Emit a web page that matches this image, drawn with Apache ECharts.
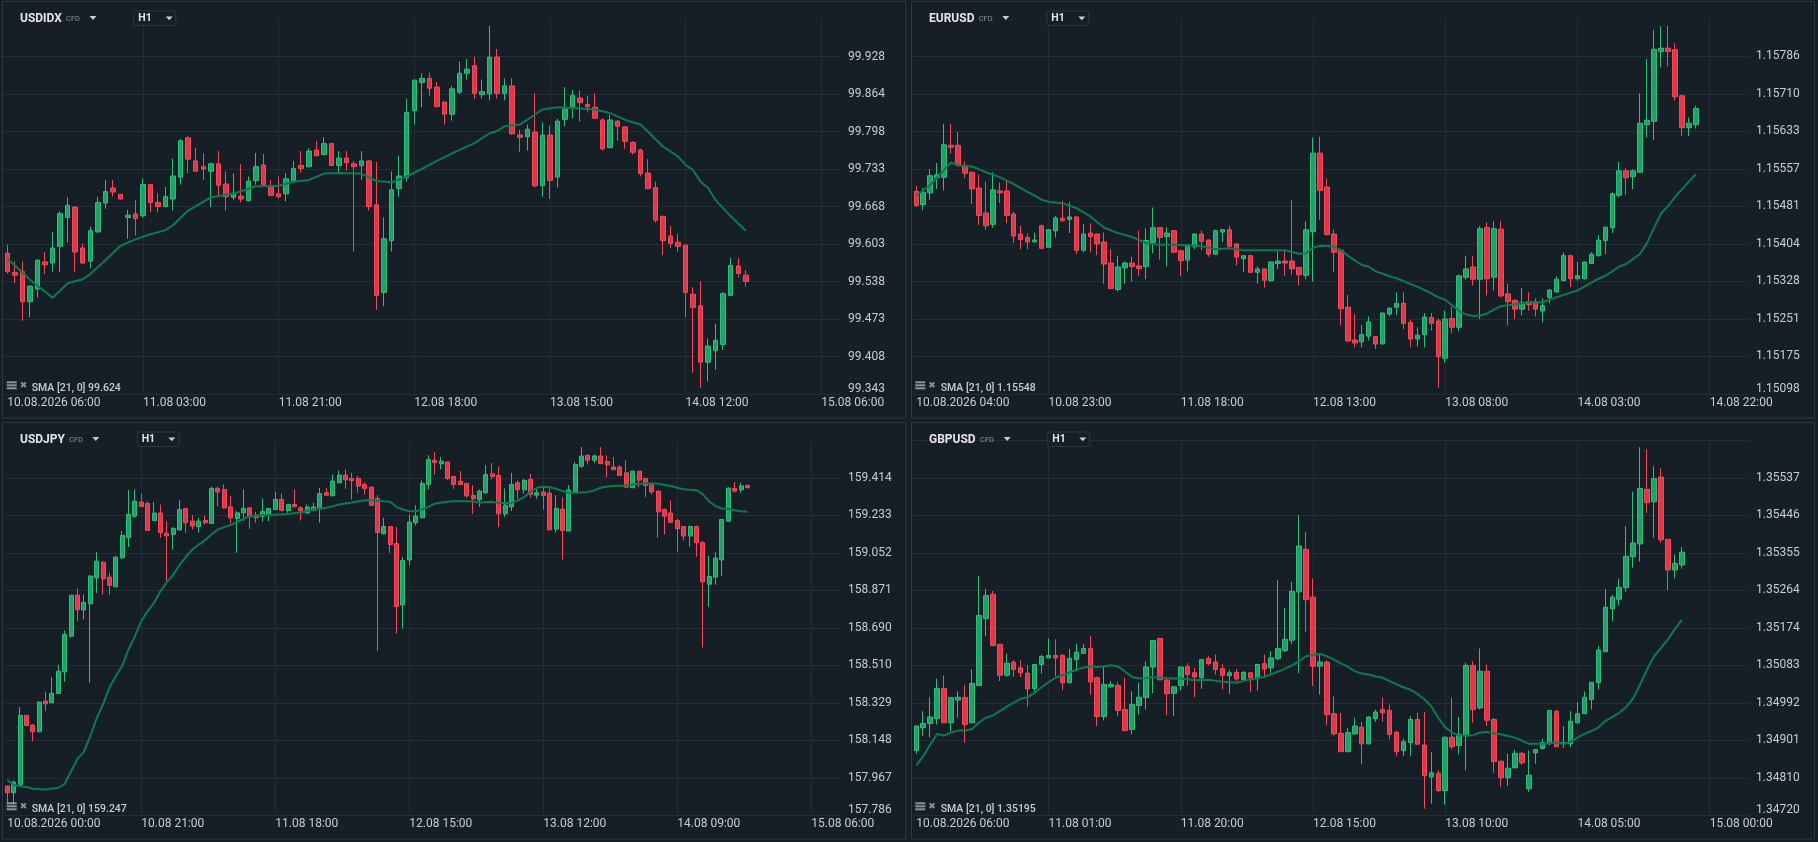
<!DOCTYPE html>
<html><head><meta charset="utf-8">
<script src="https://cdn.jsdelivr.net/npm/echarts@6/dist/echarts.min.js"></script>
<style>html,body{margin:0;padding:0;background:#171f26;}#c{width:1818px;height:842px;}</style>
</head><body><div id="c"></div><script>
// ---------- USDIDX ----------
const usdidxXLabels = ['10.08.2026 06:00','11.08 03:00','11.08 21:00','12.08 18:00','13.08 15:00','14.08 12:00','15.08 06:00'];
const usdidxYLabels = ['99.343','99.408','99.473','99.538','99.603','99.668','99.733','99.798','99.864','99.928'];
const usdidxCandles = [
[99.587,99.555,99.552,99.602],[99.554,99.549,99.535,99.573],[99.555,99.503,99.470,99.573],[99.503,99.530,99.476,99.531],
[99.525,99.575,99.510,99.576],[99.572,99.567,99.551,99.589],[99.570,99.596,99.555,99.624],[99.599,99.656,99.555,99.660],
[99.649,99.670,99.606,99.684],[99.667,99.589,99.555,99.669],[99.596,99.570,99.569,99.604],[99.573,99.626,99.561,99.633],
[99.624,99.675,99.622,99.685],[99.674,99.694,99.664,99.714],[99.700,99.693,99.685,99.714],[99.689,99.681,99.680,99.690],
[99.649,99.653,99.612,99.662],[99.655,99.647,99.618,99.679],[99.652,99.706,99.649,99.717],[99.706,99.675,99.658,99.707],
[99.675,99.668,99.658,99.691],[99.668,99.685,99.667,99.702],[99.681,99.721,99.661,99.751],[99.719,99.782,99.706,99.785],
[99.787,99.750,99.726,99.790],[99.747,99.729,99.728,99.770],[99.737,99.733,99.714,99.760],[99.729,99.742,99.667,99.744],
[99.742,99.705,99.688,99.764],[99.707,99.685,99.661,99.729],[99.684,99.691,99.679,99.725],[99.686,99.681,99.675,99.741],
[99.678,99.712,99.677,99.720],[99.713,99.737,99.706,99.761],[99.740,99.706,99.705,99.759],[99.703,99.687,99.686,99.714],
[99.690,99.685,99.682,99.720],[99.690,99.716,99.677,99.726],[99.711,99.734,99.710,99.747],[99.739,99.734,99.727,99.764],
[99.737,99.764,99.736,99.769],[99.766,99.756,99.755,99.782],[99.758,99.777,99.757,99.788],[99.777,99.739,99.738,99.778],
[99.739,99.752,99.726,99.764],[99.752,99.744,99.730,99.764],[99.742,99.737,99.590,99.747],[99.739,99.747,99.714,99.764],
[99.747,99.668,99.661,99.748],[99.671,99.514,99.489,99.745],[99.519,99.612,99.495,99.649],[99.609,99.697,99.590,99.729],
[99.699,99.721,99.685,99.756],[99.718,99.831,99.711,99.855],[99.834,99.887,99.810,99.888],[99.883,99.890,99.840,99.899],
[99.890,99.873,99.860,99.900],[99.875,99.841,99.840,99.884],[99.849,99.828,99.810,99.850],[99.828,99.872,99.817,99.877],
[99.866,99.899,99.863,99.919],[99.899,99.906,99.888,99.924],[99.912,99.864,99.854,99.927],[99.862,99.867,99.855,99.888],
[99.863,99.927,99.852,99.981],[99.927,99.864,99.855,99.941],[99.864,99.877,99.852,99.890],[99.877,99.794,99.792,99.890],
[99.792,99.788,99.762,99.801],[99.789,99.802,99.765,99.810],[99.797,99.704,99.701,99.864],[99.704,99.792,99.685,99.814],
[99.792,99.713,99.681,99.808],[99.719,99.816,99.701,99.820],[99.819,99.837,99.807,99.875],[99.840,99.861,99.821,99.870],
[99.856,99.848,99.815,99.869],[99.845,99.841,99.831,99.860],[99.840,99.821,99.820,99.864],[99.818,99.768,99.765,99.821],
[99.770,99.818,99.769,99.827],[99.816,99.807,99.782,99.817],[99.806,99.781,99.768,99.807],[99.779,99.762,99.758,99.781],
[99.766,99.725,99.720,99.768],[99.726,99.699,99.698,99.750],[99.701,99.644,99.640,99.711],[99.651,99.609,99.584,99.652],
[99.617,99.604,99.596,99.634],[99.606,99.599,99.590,99.621],[99.601,99.519,99.476,99.602],[99.516,99.493,99.380,99.528],
[99.496,99.398,99.354,99.538],[99.398,99.426,99.365,99.439],[99.418,99.436,99.385,99.465],[99.429,99.517,99.419,99.520],
[99.514,99.566,99.513,99.579],[99.565,99.552,99.545,99.579],[99.549,99.538,99.529,99.558]];
const usdidxSma = [[0,99.578],[3,99.541],[6,99.510],[8,99.535],[10,99.542],[11,99.551],[13,99.575],[15,99.600],[17,99.611],[19,99.620],[21,99.627],[22,99.636],[24,99.661],[27,99.684],[30,99.690],[33,99.703],[36,99.704],[38,99.711],[40,99.714],[42,99.725],[44,99.726],[47,99.725],[49,99.712],[51,99.710],[53,99.720],[55,99.733],[57,99.747],[60,99.766],[62,99.778],[64,99.795],[65,99.799],[66,99.807],[68,99.810],[70,99.827],[71,99.836],[73,99.840],[76,99.838],[78,99.836],[80,99.830],[82,99.818],[84,99.810],[85,99.798],[87,99.772],[89,99.755],[90,99.740],[91,99.731],[92,99.711],[93,99.700],[94,99.679],[96,99.651],[98,99.626]];

// ---------- EURUSD ----------
const eurusdXLabels = ['10.08.2026 04:00','10.08 23:00','11.08 18:00','12.08 13:00','13.08 08:00','14.08 03:00','14.08 22:00'];
const eurusdYLabels = ['1.15098','1.15175','1.15251','1.15328','1.15404','1.15481','1.15557','1.15633','1.15710','1.15786'];
const eurusdCandles = [
[1.15511,1.15482,1.15480,1.15522],[1.15484,1.15509,1.15473,1.15518],[1.15508,1.15543,1.15494,1.15556],[1.15539,1.15545,1.15516,1.15569],
[1.15540,1.15606,1.15513,1.15649],[1.15605,1.15601,1.15588,1.15649],[1.15605,1.15564,1.15562,1.15632],[1.15564,1.15548,1.15538,1.15572],
[1.15550,1.15516,1.15485,1.15551],[1.15518,1.15462,1.15443,1.15545],[1.15467,1.15441,1.15433,1.15531],[1.15444,1.15514,1.15437,1.15550],
[1.15512,1.15508,1.15487,1.15529],[1.15512,1.15462,1.15446,1.15534],[1.15465,1.15420,1.15406,1.15469],[1.15424,1.15413,1.15393,1.15441],
[1.15417,1.15408,1.15393,1.15425],[1.15408,1.15412,1.15407,1.15427],[1.15441,1.15395,1.15393,1.15443],[1.15397,1.15433,1.15396,1.15434],
[1.15431,1.15457,1.15417,1.15461],[1.15456,1.15451,1.15450,1.15492],[1.15454,1.15459,1.15426,1.15490],[1.15459,1.15391,1.15383,1.15460],
[1.15391,1.15424,1.15387,1.15445],[1.15426,1.15419,1.15387,1.15446],[1.15424,1.15404,1.15381,1.15425],[1.15408,1.15363,1.15323,1.15427],
[1.15365,1.15313,1.15312,1.15393],[1.15311,1.15357,1.15307,1.15380],[1.15355,1.15365,1.15323,1.15368],[1.15365,1.15358,1.15327,1.15378],
[1.15359,1.15354,1.15339,1.15431],[1.15358,1.15411,1.15332,1.15436],[1.15407,1.15437,1.15385,1.15478],[1.15437,1.15417,1.15372,1.15438],
[1.15419,1.15426,1.15358,1.15438],[1.15431,1.15387,1.15386,1.15432],[1.15390,1.15370,1.15338,1.15391],[1.15371,1.15402,1.15348,1.15403],
[1.15398,1.15424,1.15393,1.15426],[1.15424,1.15409,1.15391,1.15431],[1.15412,1.15383,1.15378,1.15413],[1.15383,1.15431,1.15382,1.15433],
[1.15428,1.15433,1.15408,1.15434],[1.15433,1.15399,1.15397,1.15441],[1.15404,1.15377,1.15360,1.15405],[1.15374,1.15380,1.15346,1.15381],
[1.15380,1.15346,1.15345,1.15381],[1.15346,1.15353,1.15323,1.15358],[1.15353,1.15330,1.15315,1.15354],[1.15329,1.15367,1.15327,1.15368],
[1.15364,1.15369,1.15353,1.15389],[1.15369,1.15365,1.15339,1.15391],[1.15369,1.15353,1.15341,1.15494],[1.15356,1.15341,1.15319,1.15357],
[1.15340,1.15433,1.15332,1.15450],[1.15429,1.15589,1.15327,1.15621],[1.15589,1.15513,1.15453,1.15623],[1.15520,1.15423,1.15421,1.15538],
[1.15424,1.15387,1.15346,1.15433],[1.15391,1.15272,1.15238,1.15392],[1.15275,1.15206,1.15205,1.15300],[1.15208,1.15202,1.15193,1.15261],
[1.15204,1.15219,1.15193,1.15239],[1.15216,1.15245,1.15207,1.15256],[1.15215,1.15200,1.15190,1.15216],[1.15200,1.15263,1.15199,1.15264],
[1.15261,1.15273,1.15256,1.15274],[1.15275,1.15283,1.15259,1.15305],[1.15283,1.15242,1.15230,1.15305],[1.15244,1.15210,1.15193,1.15249],
[1.15210,1.15218,1.15195,1.15234],[1.15219,1.15255,1.15193,1.15263],[1.15254,1.15242,1.15227,1.15263],[1.15247,1.15174,1.15111,1.15252],
[1.15171,1.15251,1.15162,1.15268],[1.15252,1.15234,1.15222,1.15276],[1.15234,1.15339,1.15226,1.15341],[1.15336,1.15353,1.15331,1.15380],
[1.15357,1.15332,1.15319,1.15380],[1.15332,1.15435,1.15251,1.15440],[1.15438,1.15333,1.15299,1.15448],[1.15336,1.15435,1.15309,1.15450],
[1.15434,1.15298,1.15295,1.15450],[1.15302,1.15286,1.15238,1.15323],[1.15289,1.15271,1.15251,1.15291],[1.15271,1.15285,1.15258,1.15314],
[1.15286,1.15280,1.15268,1.15305],[1.15286,1.15271,1.15256,1.15293],[1.15267,1.15278,1.15244,1.15293],[1.15295,1.15310,1.15283,1.15312],
[1.15306,1.15332,1.15305,1.15338],[1.15329,1.15380,1.15328,1.15387],[1.15380,1.15333,1.15316,1.15381],[1.15333,1.15339,1.15329,1.15367],
[1.15333,1.15367,1.15331,1.15368],[1.15364,1.15383,1.15363,1.15387],[1.15380,1.15412,1.15378,1.15422],[1.15411,1.15438,1.15383,1.15439],
[1.15437,1.15506,1.15426,1.15509],[1.15503,1.15553,1.15499,1.15571],[1.15553,1.15539,1.15504,1.15558],[1.15541,1.15553,1.15516,1.15556],
[1.15550,1.15650,1.15549,1.15711],[1.15647,1.15656,1.15621,1.15781],[1.15654,1.15801,1.15616,1.15840],[1.15796,1.15803,1.15764,1.15848],
[1.15803,1.15796,1.15766,1.15848],[1.15800,1.15704,1.15696,1.15813],[1.15706,1.15641,1.15624,1.15708],[1.15641,1.15650,1.15624,1.15662],
[1.15647,1.15680,1.15639,1.15686]];
const eurusdSma = [[0,1.15502],[2,1.15524],[4,1.15555],[5,1.15570],[6,1.15564],[8,1.15562],[10,1.15550],[12,1.15540],[14,1.15526],[16,1.15510],[18,1.15494],[19,1.15490],[21,1.15487],[23,1.15477],[25,1.15460],[27,1.15437],[29,1.15426],[31,1.15418],[33,1.15406],[35,1.15402],[37,1.15402],[39,1.15401],[41,1.15399],[43,1.15393],[45,1.15395],[47,1.15391],[49,1.15391],[51,1.15391],[53,1.15391],[55,1.15384],[56,1.15385],[57,1.15396],[58,1.15400],[60,1.15399],[61,1.15391],[62,1.15380],[64,1.15361],[65,1.15358],[66,1.15348],[67,1.15343],[68,1.15338],[69,1.15334],[70,1.15328],[71,1.15322],[72,1.15317],[73,1.15310],[74,1.15303],[75,1.15295],[76,1.15290],[77,1.15279],[78,1.15267],[79,1.15260],[80,1.15257],[81,1.15258],[82,1.15262],[83,1.15270],[84,1.15277],[86,1.15281],[88,1.15285],[90,1.15285],[91,1.15290],[93,1.15300],[95,1.15309],[97,1.15325],[98,1.15333],[99,1.15339],[100,1.15348],[101,1.15358],[102,1.15363],[104,1.15384],[105,1.15406],[106,1.15437],[107,1.15466],[108,1.15481],[109,1.15499],[110,1.15515],[111,1.15531],[112,1.15546]];

// ---------- USDJPY ----------
const usdjpyXLabels = ['10.08.2026 00:00','10.08 21:00','11.08 18:00','12.08 15:00','13.08 12:00','14.08 09:00','15.08 06:00'];
const usdjpyYLabels = ['157.786','157.967','158.148','158.329','158.510','158.690','158.871','159.052','159.233','159.414'];
const usdjpyCandles = [
[157.927,157.895,157.838,157.928],[157.895,157.946,157.838,157.954],[157.935,158.268,157.934,158.308],[158.268,158.219,158.218,158.269],
[158.221,158.189,158.144,158.227],[158.189,158.332,158.188,158.337],[158.337,158.324,158.288,158.382],[158.329,158.374,158.328,158.452],
[158.374,158.481,158.373,158.513],[158.478,158.658,158.430,158.677],[158.650,158.848,158.642,158.849],[158.848,158.777,158.723,158.880],
[158.777,158.813,158.731,158.851],[158.806,158.940,158.425,158.944],[158.932,159.012,158.859,159.055],[159.007,158.927,158.851,159.012],
[158.935,158.895,158.848,158.956],[158.888,159.031,158.887,159.036],[159.028,159.136,159.023,159.157],[159.125,159.237,159.080,159.355],
[159.229,159.301,159.221,159.358],[159.297,159.276,159.273,159.337],[159.290,159.160,159.158,159.301],[159.208,159.244,159.207,159.297],
[159.244,159.150,159.125,159.285],[159.146,159.134,158.916,159.205],[159.141,159.170,159.068,159.176],[159.163,159.261,159.157,159.306],
[159.266,159.197,159.149,159.267],[159.205,159.182,159.165,159.234],[159.179,159.205,159.149,159.221],[159.208,159.197,159.189,159.232],
[159.194,159.363,159.193,159.371],[159.363,159.346,159.277,159.371],[159.358,159.269,159.266,159.382],[159.274,159.221,159.194,159.326],
[159.218,159.245,159.052,159.253],[159.245,159.266,159.205,159.358],[159.269,159.229,159.168,159.270],[159.234,159.221,159.197,159.250],
[159.229,159.252,159.202,159.314],[159.237,159.266,159.205,159.267],[159.261,159.310,159.260,159.345],[159.310,159.256,159.253,159.338],
[159.256,159.285,159.245,159.286],[159.285,159.274,159.273,159.358],[159.269,159.256,159.208,159.277],[159.244,159.273,159.242,159.285],
[159.256,159.273,159.253,159.293],[159.266,159.338,159.197,159.366],[159.342,159.330,159.326,159.366],[159.327,159.398,159.326,159.430],
[159.390,159.427,159.389,159.449],[159.427,159.404,159.361,159.454],[159.411,159.401,159.310,159.438],[159.411,159.374,159.342,159.422],
[159.382,159.363,159.334,159.393],[159.369,159.281,159.279,159.370],[159.314,159.150,158.578,159.330],[159.144,159.179,159.141,159.221],
[159.179,159.092,159.052,159.180],[159.097,158.793,158.663,159.176],[158.801,159.015,158.687,159.031],[159.018,159.200,158.991,159.237],
[159.197,159.229,159.184,159.282],[159.221,159.387,159.220,159.401],[159.382,159.502,159.358,159.523],[159.499,159.488,159.430,159.538],
[159.482,159.494,159.454,159.514],[159.490,159.411,159.404,159.491],[159.420,159.382,159.361,159.421],[159.398,159.382,159.381,159.446],
[159.387,159.327,159.318,159.388],[159.329,159.313,159.240,159.379],[159.308,159.350,159.274,159.358],[159.342,159.430,159.337,159.475],
[159.433,159.420,159.406,159.485],[159.425,159.240,159.176,159.470],[159.240,159.282,159.226,159.363],[159.274,159.382,159.253,159.438],
[159.390,159.356,159.314,159.401],[159.356,159.401,159.338,159.409],[159.406,159.334,159.318,159.433],[159.330,159.342,159.314,159.358],
[159.345,159.329,159.260,159.366],[159.340,159.163,159.162,159.363],[159.166,159.266,159.149,159.330],[159.263,159.160,159.020,159.321],
[159.157,159.355,159.156,159.379],[159.345,159.478,159.344,159.490],[159.470,159.519,159.462,159.562],[159.523,159.499,159.478,159.524],
[159.499,159.519,159.486,159.527],[159.519,159.482,159.481,159.562],[159.493,159.477,159.417,159.522],[159.466,159.453,159.452,159.514],
[159.466,159.425,159.424,159.475],[159.438,159.369,159.366,159.498],[159.366,159.446,159.365,159.449],[159.446,159.403,159.369,159.447],
[159.411,159.377,159.321,159.414],[159.385,159.346,159.334,159.386],[159.350,159.250,159.125,159.351],[159.261,159.229,159.141,159.266],
[159.244,159.199,159.198,159.306],[159.208,159.168,159.057,159.218],[159.179,159.133,159.112,159.180],[159.133,159.179,159.081,159.184],
[159.179,159.101,159.033,159.184],[159.101,158.912,158.594,159.109],[158.901,158.938,158.792,159.039],[158.935,159.027,158.899,159.055],
[159.018,159.213,158.941,159.214],[159.205,159.364,159.202,159.369],[159.363,159.350,159.342,159.393],[159.356,159.375,159.342,159.390],
[159.377,159.367,159.361,159.382]];
const usdjpySma = [[0,157.956],[1,157.932],[3,157.923],[4,157.914],[6,157.911],[8,157.919],[9,157.938],[10,157.999],[11,158.058],[12,158.092],[13,158.168],[14,158.253],[15,158.321],[16,158.401],[17,158.457],[18,158.506],[19,158.586],[20,158.650],[21,158.723],[22,158.771],[23,158.811],[24,158.867],[25,158.911],[26,158.945],[27,158.993],[28,159.033],[29,159.068],[30,159.092],[31,159.113],[32,159.141],[33,159.165],[34,159.176],[35,159.186],[36,159.200],[37,159.216],[38,159.229],[40,159.234],[42,159.236],[44,159.239],[46,159.248],[48,159.260],[50,159.269],[52,159.285],[54,159.295],[56,159.306],[57,159.306],[58,159.305],[59,159.301],[60,159.298],[61,159.273],[62,159.261],[63,159.253],[64,159.253],[65,159.261],[66,159.274],[67,159.289],[68,159.295],[69,159.298],[70,159.301],[72,159.301],[73,159.300],[74,159.295],[76,159.298],[77,159.293],[78,159.292],[79,159.293],[80,159.305],[81,159.321],[82,159.346],[83,159.366],[84,159.371],[85,159.369],[86,159.361],[87,159.350],[88,159.342],[89,159.342],[91,159.346],[92,159.353],[93,159.366],[94,159.372],[95,159.375],[97,159.377],[99,159.385],[100,159.388],[102,159.385],[104,159.374],[105,159.366],[106,159.359],[107,159.356],[108,159.355],[109,159.334],[110,159.301],[111,159.277],[112,159.266],[113,159.263],[114,159.258],[115,159.253],[116,159.250]];

// ---------- GBPUSD ----------
const gbpusdXLabels = ['10.08.2026 06:00','11.08 01:00','11.08 20:00','12.08 15:00','13.08 10:00','14.08 05:00','15.08 00:00'];
const gbpusdYLabels = ['1.34720','1.34810','1.34901','1.34992','1.35083','1.35174','1.35264','1.35355','1.35446','1.35537'];
const gbpusdCandles = [
[1.34877,1.34936,1.34869,1.34938],[1.34932,1.34942,1.34912,1.34972],[1.34942,1.34958,1.34908,1.35006],[1.34954,1.35027,1.34940,1.35051],
[1.35027,1.34944,1.34943,1.35059],[1.34944,1.35005,1.34924,1.35006],[1.34999,1.35006,1.34956,1.35020],[1.35005,1.34940,1.34896,1.35035],
[1.34944,1.35039,1.34943,1.35073],[1.35034,1.35204,1.35033,1.35299],[1.35196,1.35252,1.35154,1.35268],[1.35255,1.35131,1.35130,1.35263],
[1.35134,1.35059,1.35045,1.35135],[1.35059,1.35088,1.35055,1.35111],[1.35091,1.35073,1.35055,1.35095],[1.35077,1.35065,1.35055,1.35095],
[1.35064,1.35026,1.34983,1.35083],[1.35027,1.35085,1.35020,1.35086],[1.35085,1.35104,1.35063,1.35109],[1.35101,1.35107,1.35100,1.35148],
[1.35107,1.35101,1.35057,1.35146],[1.35107,1.35041,1.35023,1.35111],[1.35041,1.35100,1.35040,1.35123],[1.35097,1.35115,1.35069,1.35135],
[1.35112,1.35124,1.35111,1.35135],[1.35124,1.35043,1.35012,1.35154],[1.35053,1.34959,1.34936,1.35056],[1.34959,1.35037,1.34950,1.35079],
[1.35031,1.35037,1.35029,1.35045],[1.35034,1.34974,1.34960,1.35042],[1.34976,1.34925,1.34924,1.35053],[1.34928,1.34988,1.34916,1.35020],
[1.34986,1.35006,1.34964,1.35041],[1.35005,1.35079,1.34976,1.35092],[1.35079,1.35143,1.35016,1.35144],[1.35148,1.35048,1.35047,1.35149],
[1.35047,1.35014,1.34962,1.35056],[1.35015,1.35031,1.34960,1.35033],[1.35034,1.35079,1.35022,1.35080],[1.35080,1.35061,1.35034,1.35088],
[1.35065,1.35055,1.35006,1.35077],[1.35053,1.35097,1.35026,1.35098],[1.35100,1.35087,1.35083,1.35105],[1.35091,1.35073,1.35061,1.35109],
[1.35075,1.35059,1.35025,1.35085],[1.35058,1.35065,1.35014,1.35072],[1.35066,1.35050,1.35045,1.35074],[1.35049,1.35066,1.35047,1.35069],
[1.35065,1.35053,1.35019,1.35066],[1.35053,1.35085,1.35022,1.35087],[1.35087,1.35074,1.35057,1.35109],[1.35077,1.35101,1.35065,1.35117],
[1.35099,1.35124,1.35095,1.35289],[1.35119,1.35146,1.35115,1.35222],[1.35144,1.35262,1.35134,1.35285],[1.35261,1.35372,1.35064,1.35447],
[1.35364,1.35242,1.35164,1.35406],[1.35248,1.35081,1.35033,1.35293],[1.35081,1.35091,1.35012,1.35109],[1.35091,1.34964,1.34938,1.35095],
[1.34966,1.34917,1.34913,1.35008],[1.34918,1.34874,1.34873,1.34968],[1.34874,1.34920,1.34873,1.34932],[1.34917,1.34936,1.34916,1.34956],
[1.34933,1.34893,1.34843,1.34946],[1.34893,1.34958,1.34892,1.34959],[1.34954,1.34970,1.34946,1.34976],[1.34976,1.34968,1.34946,1.35005],
[1.34974,1.34916,1.34904,1.34988],[1.34921,1.34874,1.34863,1.34924],[1.34877,1.34898,1.34863,1.34906],[1.34896,1.34952,1.34863,1.34960],
[1.34952,1.34892,1.34891,1.34968],[1.34890,1.34816,1.34736,1.34970],[1.34813,1.34823,1.34748,1.34873],[1.34822,1.34780,1.34776,1.34829],
[1.34780,1.34909,1.34746,1.34910],[1.34909,1.34886,1.34880,1.35005],[1.34889,1.34916,1.34867,1.34958],[1.34912,1.35083,1.34829,1.35089],
[1.35083,1.34976,1.34944,1.35093],[1.34980,1.35069,1.34976,1.35124],[1.35069,1.34950,1.34936,1.35085],[1.34952,1.34850,1.34823,1.34956],
[1.34851,1.34811,1.34789,1.34852],[1.34811,1.34834,1.34791,1.34869],[1.34835,1.34870,1.34834,1.34878],[1.34870,1.34847,1.34842,1.34873],
[1.34784,1.34817,1.34777,1.34877],[1.34871,1.34879,1.34845,1.34880],[1.34882,1.34896,1.34879,1.34905],[1.34893,1.34974,1.34891,1.34975],
[1.34972,1.34886,1.34885,1.34975],[1.34893,1.34896,1.34883,1.34936],[1.34893,1.34948,1.34885,1.34972],[1.34944,1.34966,1.34941,1.34994],
[1.34966,1.35006,1.34965,1.35020],[1.35000,1.35042,1.34976,1.35043],[1.35041,1.35120,1.35025,1.35130],[1.35116,1.35224,1.35115,1.35268],
[1.35220,1.35248,1.35190,1.35253],[1.35243,1.35272,1.35228,1.35293],[1.35271,1.35347,1.35261,1.35420],[1.35346,1.35379,1.35319,1.35503],
[1.35377,1.35511,1.35334,1.35611],[1.35509,1.35477,1.35452,1.35606],[1.35479,1.35535,1.35392,1.35565],[1.35539,1.35387,1.35380,1.35560],
[1.35388,1.35314,1.35265,1.35389],[1.35314,1.35330,1.35293,1.35351],[1.35326,1.35357,1.35317,1.35369]];
const gbpusdSma = [[0,1.34841],[1,1.34863],[2,1.34891],[3,1.34917],[4,1.34913],[5,1.34921],[6,1.34925],[7,1.34925],[8,1.34929],[9,1.34944],[10,1.34956],[11,1.34962],[12,1.34972],[13,1.34983],[14,1.34993],[15,1.35002],[16,1.35006],[17,1.35017],[18,1.35030],[19,1.35042],[20,1.35053],[21,1.35059],[22,1.35065],[23,1.35073],[24,1.35077],[25,1.35081],[26,1.35079],[27,1.35081],[28,1.35083],[29,1.35080],[30,1.35068],[31,1.35055],[32,1.35051],[33,1.35052],[34,1.35055],[35,1.35053],[36,1.35051],[38,1.35051],[40,1.35047],[42,1.35048],[44,1.35043],[46,1.35041],[48,1.35049],[50,1.35055],[52,1.35068],[54,1.35083],[55,1.35093],[56,1.35105],[57,1.35108],[58,1.35111],[59,1.35105],[60,1.35097],[61,1.35088],[62,1.35080],[63,1.35069],[64,1.35063],[65,1.35061],[66,1.35056],[67,1.35053],[68,1.35045],[69,1.35037],[70,1.35030],[71,1.35024],[72,1.35014],[73,1.35001],[74,1.34984],[75,1.34956],[76,1.34933],[77,1.34920],[78,1.34913],[79,1.34913],[80,1.34914],[81,1.34920],[82,1.34922],[83,1.34918],[84,1.34916],[85,1.34912],[86,1.34908],[87,1.34901],[88,1.34893],[90,1.34893],[92,1.34896],[93,1.34893],[94,1.34898],[95,1.34908],[96,1.34917],[97,1.34924],[98,1.34933],[99,1.34948],[100,1.34958],[101,1.34968],[102,1.34982],[103,1.35003],[104,1.35037],[105,1.35073],[106,1.35105],[107,1.35125],[108,1.35146],[109,1.35171],[110,1.35193]];

const smaLegend = ['SMA [21, 0] 99.624','SMA [21, 0] 1.15548','SMA [21, 0] 159.247','SMA [21, 0] 1.35195'];
const symbols = ['USDIDX','EURUSD','USDJPY','GBPUSD'];

// ---------- layout / style ----------
const BG = '#171f26', GRID = '#242d35', BORDER = '#2e3841', TXT = '#c8cdd2', HEAD = '#e2e5e8', MUTED = '#8a939b';
const FONT = 'Roboto';
const panels = [
  {sym:symbols[0], candles:usdidxCandles, sma:usdidxSma, xl:usdidxXLabels, yl:usdidxYLabels, step:18, slots:111, bw:5,
   grid:{left:3.6, top:19, width:836.4, height:375}, box:[2.5,1.5,903.5,416.5],
   hy:18.5, sx:20, cx:66, tx:93, hbx:133.3, htx:138.3, htr:169.2, lix:6.7, ltx:31.7, ly:388.3},
  {sym:symbols[1], candles:eurusdCandles, sma:eurusdSma, xl:eurusdXLabels, yl:eurusdYLabels, step:19, slots:120, bw:5,
   grid:{left:912.8, top:19, width:835.2, height:375}, box:[911.5,1.5,903,416.5],
   hy:18.5, sx:929, cx:978.7, tx:1005.8, hbx:1046.3, htx:1051.3, htr:1081.8, lix:915.3, ltx:940.7, ly:388.3},
  {sym:symbols[2], candles:usdjpyCandles, sma:usdjpySma, xl:usdjpyXLabels, yl:usdjpyYLabels, step:21, slots:131, bw:4.5,
   grid:{left:4.1, top:440.3, width:835.9, height:375}, box:[2.5,422.5,903.5,416.5],
   hy:439.5, sx:20, cx:69, tx:95.8, hbx:136.7, htx:141.7, htr:171.8, lix:6.7, ltx:31.7, ly:809.3},
  {sym:symbols[3], candles:gbpusdCandles, sma:gbpusdSma, xl:gbpusdXLabels, yl:gbpusdYLabels, step:19, slots:120, bw:5,
   grid:{left:912.8, top:440.3, width:835.2, height:375}, box:[911.5,422.5,903,416.5],
   hy:439.5, sx:929, cx:980, tx:1007.2, hbx:1047.3, htx:1052.3, htr:1082.8, lix:915.3, ltx:940.7, ly:809.3}
];

const option = {backgroundColor: BG, animation:false, grid:[], xAxis:[], yAxis:[], series:[], graphic:[]};

panels.forEach((p, k) => {
  const cats = Array.from({length:p.slots}, (_, i) => (i % p.step === 0 && p.xl[i / p.step] !== undefined) ? p.xl[i / p.step] : String(i));
  const isTick = i => i % p.step === 0 && (i / p.step) < p.xl.length;
  const ymin = parseFloat(p.yl[0]);
  const yint = +((parseFloat(p.yl[p.yl.length - 1]) - ymin) / (p.yl.length - 1)).toPrecision(8);
  const ymax = +(ymin + yint * p.yl.length).toFixed(8);
  option.grid.push(Object.assign({containLabel:false}, p.grid));
  option.xAxis.push({
    type:'category', gridIndex:k, data:cats, boundaryGap:true,
    axisLine:{show:false}, axisTick:{show:false},
    axisLabel:{interval:(i) => isTick(i), align:'left', margin:3, color:TXT, fontSize:12, fontFamily:FONT},
    splitLine:{show:true, interval:(i) => i > 0 && isTick(i), alignWithLabel:true, lineStyle:{color:GRID, width:1}}
  });
  option.yAxis.push({
    type:'value', gridIndex:k, position:'right', min:ymin, max:ymax, interval:yint,
    axisLine:{show:false}, axisTick:{show:false},
    splitLine:{show:true, showMaxLine:false, lineStyle:{color:GRID, width:1}},
    axisLabel:{margin:8, color:TXT, fontSize:12, fontFamily:FONT,
      formatter:(v, i) => i === 0 ? '{lo|' + p.yl[0] + '}' : (p.yl[i] !== undefined ? p.yl[i] : ''),
      rich:{lo:{padding:[0,0,10,0], color:TXT, fontSize:12, fontFamily:FONT}}}
  });
  option.series.push({
    type:'candlestick', xAxisIndex:k, yAxisIndex:k, data:p.candles, barWidth:p.bw,
    itemStyle:{color:'#21a06a', color0:'#e0374a', borderColor:'#2bbf7c', borderColor0:'#f3495b', borderWidth:1}
  });
  option.series.push({
    type:'line', xAxisIndex:k, yAxisIndex:k, data:p.sma, showSymbol:false, symbol:'none', z:3,
    lineStyle:{color:'#0b7a52', width:2}
  });
  // panel border
  option.graphic.push({type:'rect', shape:{x:p.box[0], y:p.box[1], width:p.box[2], height:p.box[3]}, style:{fill:'none', stroke:BORDER, lineWidth:1}, z:10});
  // header
  option.graphic.push({type:'text', x:p.sx, y:p.hy, style:{text:p.sym, fill:HEAD, font:'bold 12px Roboto', verticalAlign:'middle'}, z:10});
  option.graphic.push({type:'text', x:p.cx, y:p.hy + 1, style:{text:'CFD', fill:MUTED, font:'7.5px Roboto', verticalAlign:'middle'}, z:10});
  option.graphic.push({type:'polygon', shape:{points:[[p.tx - 3.5, p.hy - 2.5], [p.tx + 3.5, p.hy - 2.5], [p.tx, p.hy + 1.5]]}, style:{fill:TXT}, z:10});
  option.graphic.push({type:'rect', shape:{x:p.hbx + 0.5, y:p.hy - 7.5, width:42, height:14.5, r:2}, style:{fill:BG, stroke:BORDER, lineWidth:1}, z:10});
  option.graphic.push({type:'text', x:p.htx, y:p.hy, style:{text:'H1', fill:HEAD, font:'bold 10.5px Roboto', verticalAlign:'middle'}, z:11});
  option.graphic.push({type:'polygon', shape:{points:[[p.htr - 3.5, p.hy - 2], [p.htr + 3.5, p.hy - 2], [p.htr, p.hy + 1.8]]}, style:{fill:TXT}, z:11});
  // indicator legend
  [0, 3, 6].forEach(d => option.graphic.push({type:'rect', shape:{x:p.lix, y:p.ly - 7 + d, width:10, height:2}, style:{fill:MUTED}, z:10}));
  option.graphic.push({type:'text', x:p.lix + 13, y:p.ly - 3, style:{text:'\u2716', fill:MUTED, font:'9px DejaVu Sans', verticalAlign:'middle'}, z:10});
  option.graphic.push({type:'text', x:p.ltx, y:p.ly, style:{text:smaLegend[k], fill:TXT, font:'500 10.5px Roboto', verticalAlign:'middle'}, z:10});
});

const chart = echarts.init(document.getElementById('c'), null, {renderer:'canvas'});
chart.setOption(option);
</script></body></html>
